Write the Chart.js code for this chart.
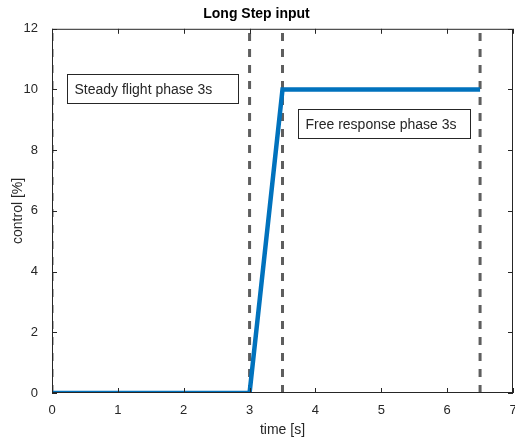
<!DOCTYPE html>
<html>
<head>
<meta charset="utf-8">
<script src="https://cdn.jsdelivr.net/npm/chart.js@4.4.0/dist/chart.umd.min.js"></script>
<style>
  html, body { margin: 0; padding: 0; background: #fff; }
  #wrap { width: 515px; height: 441px; }
</style>
</head>
<body>
<div id="wrap"><canvas id="chart" width="515" height="441"></canvas></div>
<script>
// control input (time in s, control in %)
const timeValues = [0, 3, 3.5, 6.5];
const controlValues = [0, 0, 10, 10];
// phase boundaries shown as dashed lines
const phaseLines = [0, 3, 3.5, 6.5];
const xTicks = [0, 1, 2, 3, 4, 5, 6, 7];
const yTicks = [0, 2, 4, 6, 8, 10, 12];
const noteLabels = ["Steady flight phase 3s", "Free response phase 3s"];

const FONT = "'Liberation Sans', Arial, Helvetica, sans-serif";
const TXT = "#262626";

const datasets = [];
phaseLines.forEach((x) => {
  datasets.push({
    data: [{ x: x, y: 0 }, { x: x, y: 12 }],
    borderColor: "#5e5e5e",
    borderWidth: 3,
    borderDash: [8, 8],
    pointRadius: 0,
    order: 2,
  });
});
datasets.push({
  data: timeValues.map((t, i) => ({ x: t, y: controlValues[i] })),
  borderColor: "#0072BD",
  borderWidth: 4.5,
  pointRadius: 0,
  order: 1,
});

// box around the axes with inward ticks + text notes (MATLAB look)
const matlabAxes = {
  id: "matlabAxes",
  afterDatasetsDraw(chart) {
    const { ctx, chartArea: a, scales } = chart;
    const xs = scales.x, ys = scales.y;
    ctx.save();
    ctx.strokeStyle = "#262626";
    ctx.lineWidth = 1;
    ctx.strokeRect(a.left + 0.5, a.top + 0.5, a.right - a.left - 1, a.bottom - a.top - 1);
    const tl = 5;
    ctx.beginPath();
    xTicks.forEach((v) => {
      const px = Math.round(xs.getPixelForValue(v)) + 0.5;
      ctx.moveTo(px, a.bottom); ctx.lineTo(px, a.bottom - tl);
      ctx.moveTo(px, a.top); ctx.lineTo(px, a.top + tl);
    });
    yTicks.forEach((v) => {
      const py = Math.round(ys.getPixelForValue(v)) + 0.5;
      ctx.moveTo(a.left, py); ctx.lineTo(a.left + tl, py);
      ctx.moveTo(a.right, py); ctx.lineTo(a.right - tl, py);
    });
    ctx.stroke();

    // text boxes placed in data coordinates
    const notes = [
      { text: noteLabels[0], x0: 0.23, x1: 2.83, y0: 10.5, y1: 9.55 },
      { text: noteLabels[1], x0: 3.73, x1: 6.35, y0: 9.35, y1: 8.4 },
    ];
    ctx.font = "14px " + FONT;
    ctx.textBaseline = "middle";
    notes.forEach((n) => {
      const l = Math.round(xs.getPixelForValue(n.x0)) + 0.5;
      const r = Math.round(xs.getPixelForValue(n.x1)) + 0.5;
      const t = Math.round(ys.getPixelForValue(n.y0)) + 0.5;
      const b = Math.round(ys.getPixelForValue(n.y1)) + 0.5;
      ctx.fillStyle = "#fff";
      ctx.fillRect(l, t, r - l, b - t);
      ctx.strokeStyle = "#262626";
      ctx.strokeRect(l, t, r - l, b - t);
      ctx.fillStyle = TXT;
      ctx.fillText(n.text, l + 7, (t + b) / 2 + 1);
    });
    ctx.restore();
  },
};

new Chart(document.getElementById("chart").getContext("2d"), {
  type: "line",
  data: { datasets: datasets },
  options: {
    responsive: false,
    animation: false,
    layout: { padding: { top: 0, right: 2, bottom: 0, left: 0 } },
    plugins: {
      legend: { display: false },
      tooltip: { enabled: false },
      title: {
        display: true,
        text: "Long Step input",
        color: "#000",
        font: { family: FONT, size: 14, weight: "bold" },
        padding: { top: 6, bottom: 6 },
      },
    },
    scales: {
      x: {
        type: "linear",
        min: 0,
        max: 7,
        afterBuildTicks: (s) => { s.ticks = xTicks.map((v) => ({ value: v })); },
        afterFit: (s) => { s.height = 48; s.paddingLeft = 0; s.paddingRight = 0; },
        grid: { display: false },
        border: { display: false },
        ticks: { color: TXT, font: { family: FONT, size: 13 }, padding: 2 },
        title: {
          display: true,
          text: "time [s]",
          color: TXT,
          font: { family: FONT, size: 14 },
          padding: { top: 4, bottom: 2 },
        },
      },
      y: {
        min: 0,
        max: 12,
        afterBuildTicks: (s) => { s.ticks = yTicks.map((v) => ({ value: v })); },
        afterFit: (s) => { s.width = 52; },
        grid: { display: false },
        border: { display: false },
        ticks: { color: TXT, font: { family: FONT, size: 13 }, padding: 6 },
        title: {
          display: true,
          text: "control [%]",
          color: TXT,
          font: { family: FONT, size: 14 },
          padding: { top: 10, bottom: 8 },
        },
      },
    },
  },
  plugins: [matlabAxes],
});
</script>
</body>
</html>
